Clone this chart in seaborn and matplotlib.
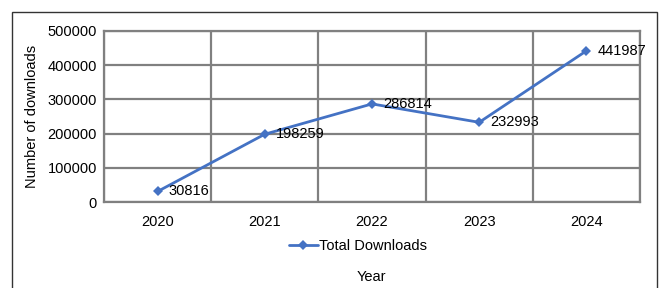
import matplotlib
matplotlib.use("Agg")
import matplotlib.pyplot as plt
import seaborn as sns
import numpy as np
from matplotlib.patches import Rectangle

# data
years = ["2020", "2021", "2022", "2023", "2024"]
downloads = [30816, 198259, 286814, 232993, 441987]
series_name = "Total Downloads"

sns.set_style("white")
plt.rcParams['font.family'] = ['Liberation Sans', 'DejaVu Sans']
plt.rcParams['font.size'] = 10.5
plt.rcParams['text.color'] = 'black'
plt.rcParams['axes.labelcolor'] = 'black'
plt.rcParams['xtick.color'] = 'black'
plt.rcParams['ytick.color'] = 'black'

line_color = "#4472C4"
grid_color = "#808080"

fig = plt.figure(figsize=(6.59, 2.88), dpi=100)
ax = fig.add_axes([104 / 659, 1 - 202 / 288, (640 - 104) / 659, (202 - 31) / 288])

sns.lineplot(x=years, y=downloads, ax=ax, color=line_color, marker="D",
             markersize=5, markeredgewidth=0, linewidth=2, label=series_name,
             sort=False)

ax.set_xlim(-0.5, len(years) - 0.5)
ax.set_ylim(0, 500000)
ax.set_yticks(np.arange(0, 500001, 100000))
ax.set_xticks(range(len(years)))
ax.set_xticklabels(years)
ax.set_xticks(np.arange(-0.5, len(years), 1.0), minor=True)

ax.grid(False)
ax.grid(True, which="minor", axis="x", color=grid_color, linewidth=1.6)
ax.grid(True, which="major", axis="y", color=grid_color, linewidth=1.6)
ax.set_axisbelow(True)
for s in ax.spines.values():
    s.set_color(grid_color)
    s.set_linewidth(1.6)

ax.tick_params(axis="both", which="both", length=0)
ax.tick_params(axis="y", pad=5)
ax.tick_params(axis="x", pad=9)

for i, v in enumerate(downloads):
    ax.annotate(str(v), (i, v), xytext=(8, 0), textcoords="offset points",
                ha="left", va="center", fontsize=10.5)

ax.set_ylabel("Number of downloads", labelpad=6)
ax.set_xlabel("")

leg = ax.legend(loc="center", bbox_to_anchor=(358 / 659, 1 - 246 / 288),
                bbox_transform=fig.transFigure, frameon=False,
                handlelength=2.0, handletextpad=0.1, fontsize=10.5)

fig.text(371 / 659, 1 - 277 / 288, "Year", ha="center", va="center", fontsize=10.5)

# outer chart border
fig.patches.append(Rectangle((12 / 659, -0.05), (657 - 12) / 659, 1.05 - 12 / 288,
                             transform=fig.transFigure, fill=False,
                             edgecolor="#333333", linewidth=1.0))

fig.savefig("out.png", dpi=100)
